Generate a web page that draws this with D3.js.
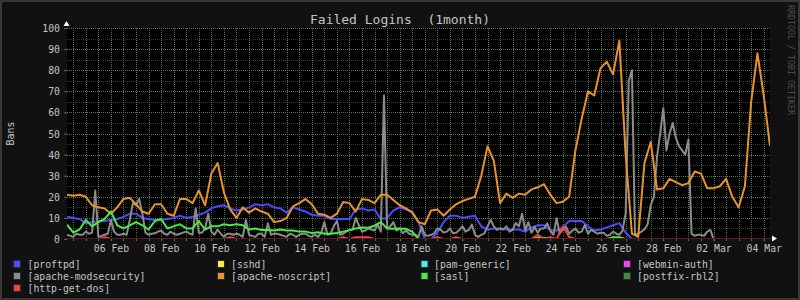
<!DOCTYPE html>
<html>
<head>
<meta charset="utf-8">
<script src="https://d3js.org/d3.v7.min.js"></script>
<style>
  html, body { margin: 0; padding: 0; background: #111; }
  svg { display: block; }
  text { font-family: "DejaVu Sans Mono", monospace; }
</style>
</head>
<body>
<svg id="chart" width="800" height="300"></svg>
<script>
// time span shown (1 month), every series is evenly sampled over it
const startTime = new Date(2015, 1, 4, 6);
const endTime = new Date(2015, 2, 4, 6);

const yTicks = [0, 10, 20, 30, 40, 50, 60, 70, 80, 90, 100];

const jailNames = ["[proftpd]", "[sshd]", "[pam-generic]", "[webmin-auth]",
  "[apache-modsecurity]", "[apache-noscript]", "[sasl]", "[postfix-rbl2]", "[http-get-dos]"];
const jailColors = ["#4a4aff", "#eeee44", "#44eeee", "#ee44ee",
  "#8c8c8c", "#e8922e", "#44ee44", "#448844", "#ee4444"];

// 6h samples
const proftpd = [10.5, 10, 9.5, 7.5, 8, 8.5, 8.5, 9, 9.5, 10.5,
  12, 12, 10, 9.5, 9, 9, 9.5, 10, 11, 10,
  10.5, 11.5, 12.5, 14.5, 15.5, 16, 14.5, 13.5, 14, 15,
  16.5, 16, 16.5, 15, 14.5, 12.5, 15, 14, 13, 11.5,
  11, 11, 9.5, 9.5, 9.5, 9.5, 14, 14.5, 13.5, 14,
  9.5, 10, 13.5, 15, 14, 13, 8, 0, 0, 3,
  8, 11, 11, 10, 10.5, 11, 6, 4.5, 5, 5,
  4.5, 4.5, 4.5, 3.5, 5.5, 6.5, 6.5, 4, 4, 5.5,
  8.5, 8.5, 8.5, 6, 4, 4.5, 5.5, 6.5, 7.5, 3,
  0, 0, 0, 0, 0, 0, 0, 0, 0, 0,
  0, 0, 0, 0, 0, 0, 0, 0, 0, 0,
  0, 0, 0];

// 3h samples
const apacheModsecurity = [2, 1.5, 1, 2.5, 2, 2, 3.5, 2.5, 3, 23,
  1, 1.5, 2, 2.5, 9, 3.5, 2, 2, 2.5, 2,
  9, 17, 16, 19, 12, 3, 2, 2.5, 2.7, 3.5,
  4, 2.5, 2, 3.5, 2.5, 2, 2.5, 3, 3.5, 2.7,
  2, 14.5, 3, 3, 5, 12, 3.5, 2, 4.5, 2.5,
  1, 2.5, 2.5, 2, 2.5, 2, 1, 9, 2, 1.5,
  1, 2.5, 2.5, 1, 7.5, 2, 2.5, 2.5, 2, 1.5,
  1, 2.5, 2, 1, 2, 2.5, 2.5, 1.5, 1, 2,
  1, 3, 8, 2, 2.5, 6, 8.5, 2, 2.5, 3.5,
  4.3, 4.5, 10, 6.5, 3.5, 4, 5, 4.5, 4, 6.8,
  3.5, 68, 5, 6, 8, 4, 5, 2.7, 4, 2.5,
  2, 2, 1, 6, 2, 1.5, 2, 2.7, 5, 4.5,
  3, 3.5, 5, 2.7, 3, 4.3, 6, 3.5, 4.3, 6.8,
  2, 1, 2, 2.7, 6, 9, 6, 4.3, 5, 4.5,
  6, 3.5, 4.3, 7.6, 6, 12, 4, 8, 3, 5.8,
  3, 5, 5, 7.4, 4, 2, 9.8, 2.5, 4.5, 5.8,
  2.5, 4, 5, 3, 3.5, 6.6, 2.5, 4.3, 3.5, 2.5,
  3, 3, 1.5, 2, 3.5, 2.5, 2, 4, 12, 75,
  80, 2, 2.5, 3.5, 4.5, 7, 16, 20, 39, 50,
  62, 42, 50, 55, 48, 44, 42, 40, 47, 2.5,
  1.5, 2, 2, 1.5, 3.5, 4.3, 0, 0, 0, 0,
  0, 0, 0, 0, 0, 0, 0, 0, 0, 0,
  0, 0, 0, 0, 0];

// 6h samples
const apacheNoscript = [21, 20.5, 21, 20, 16, 15, 14.5, 12, 15, 19,
  19.5, 16.5, 13, 12, 16.5, 16.5, 12, 11, 19, 19,
  17, 23, 16, 31, 36, 22, 14, 10, 15, 12.5,
  14.5, 13, 12, 8, 8.5, 10, 15.5, 17, 19, 16.5,
  12, 11.5, 10, 12, 17.5, 17, 13, 19, 18.5, 17,
  21, 21, 18.5, 16, 14.5, 12.5, 8, 7, 13.5, 14,
  11, 14, 16.5, 18, 19, 20, 30, 44, 37, 17,
  21.5, 19.5, 21.5, 21, 23.5, 24.5, 26, 21, 17, 17.7,
  20, 42, 57, 70, 68, 81, 84, 78, 94, 40,
  2.5, 1, 36, 46, 23.5, 24, 28.5, 27, 25.5, 26.5,
  32, 31, 24, 24, 25, 28.5, 20, 15, 25, 65,
  88, 68, 44];

const sasl = [6.8, 3, 4.5, 9, 6, 8, 9.5, 13, 6.5, 5,
  6.5, 8, 6.5, 4.5, 8.5, 9.5, 5, 6, 7, 5,
  5, 8.5, 4.5, 6, 6, 7, 6.5, 7, 6.5, 4.5,
  5, 4.3, 4.3, 4, 4.5, 4, 4, 3.5, 3.5, 2.8,
  3.2, 2.5, 2.5, 2.8, 3.5, 4.2, 5, 5.5, 5.3, 6.3,
  8, 5, 4.8, 5, 4.8, 3.5, 0, 0, 0, 0,
  0, 0, 0, 0, 0, 0, 0, 0, 0, 0,
  0, 0, 0, 0, 0, 0.6, 0.6, 0, 0, 0,
  0, 0, 0, 0, 0, 0, 0, 0.8, 0.8, 0,
  0, 0, 0, 0, 0, 0, 0, 0, 0, 0,
  0, 0, 0, 0, 0, 0, 0, 0, 0, 0,
  0, 0, 0];

const httpGetDos = [0, 0, 0, 0, 0, 0, 0.8, 0, 0, 0,
  0, 0, 0, 0, 0, 0, 0, 0, 0, 0,
  0, 0, 0, 0, 0, 0, 0.8, 0, 0, 0,
  0, 0, 0, 0, 0, 0, 0, 0, 0, 0,
  0, 0, 0, 0, 0.8, 0, 0.8, 0.8, 0.8, 0,
  0, 0, 0, 0, 0, 0, 0, 0, 0, 0.8,
  0, 0, 0.8, 0, 0, 0, 0, 0, 0, 0,
  0, 0, 0, 0, 0, 2, 0, 0.8, 0, 6,
  1, 0, 0, 0, 0, 0, 0, 0, 0, 0,
  0, 0, 0, 0, 0, 0, 0, 0, 0, 0,
  0, 0, 0, 0, 0, 0, 0, 0, 0, 0,
  0, 0, 0];

// sshd, pam-generic, webmin-auth and postfix-rbl2 have no bans in this period
const series = [
  { values: proftpd, color: jailColors[0] },
  { values: apacheModsecurity, color: jailColors[4] },
  { values: apacheNoscript, color: jailColors[5] },
  { values: sasl, color: jailColors[6] },
  { values: httpGetDos, color: jailColors[8] }
];

const W = 800, H = 300;
const plot = { left: 67, right: 770, top: 28, bottom: 239 };
const gridMajor = "#52744a", gridMinor = "#3c3c1e", axisColor = "#5a1c1c";
const textColor = "#c4c4c4";

const svg = d3.select("#chart");

svg.append("rect").attr("width", W).attr("height", H).attr("fill", "#111");
svg.append("rect").attr("x", 1).attr("y", 1).attr("width", W - 2).attr("height", H - 2)
  .attr("fill", "none").attr("stroke", "#383838").attr("stroke-width", 2);

svg.append("rect")
  .attr("x", plot.left).attr("y", plot.top)
  .attr("width", plot.right - plot.left).attr("height", plot.bottom - plot.top)
  .attr("fill", "#000");

var x = d3.scaleTime().domain([startTime, endTime]).range([plot.left, plot.right]);
var y = d3.scaleLinear().domain([0, 100]).range([plot.bottom, plot.top]);

const snap = (v) => Math.round(v) + 0.5;

// grid
const grid = svg.append("g").attr("shape-rendering", "crispEdges").attr("stroke-dasharray", "1,1");
grid.selectAll("line.minor").data(d3.range(5, 100, 10)).enter().append("line")
  .attr("x1", plot.left).attr("x2", plot.right)
  .attr("y1", (d) => snap(y(d))).attr("y2", (d) => snap(y(d)))
  .attr("stroke", gridMinor);
grid.selectAll("line.major").data(yTicks.slice(1)).enter().append("line")
  .attr("x1", plot.left).attr("x2", plot.right)
  .attr("y1", (d) => snap(y(d))).attr("y2", (d) => snap(y(d)))
  .attr("stroke", gridMajor);
grid.selectAll("line.vert").data(d3.timeHour.every(12).range(startTime, endTime)).enter().append("line")
  .attr("x1", (d) => snap(x(d))).attr("x2", (d) => snap(x(d)))
  .attr("y1", plot.top).attr("y2", plot.bottom)
  .attr("stroke", gridMajor);

// data lines, clipped so a value of 0 hides behind the axis
svg.append("clipPath").attr("id", "clip").append("rect")
  .attr("x", plot.left).attr("y", plot.top - 2)
  .attr("width", plot.right - plot.left).attr("height", plot.bottom - 1 - (plot.top - 2));

const lines = svg.append("g").attr("clip-path", "url(#clip)");
series.forEach((s) => {
  const n = s.values.length;
  const t = (i) => new Date(+startTime + i * (endTime - startTime) / (n - 1));
  const line = d3.line().x((d, i) => x(t(i))).y((d) => y(d));
  lines.append("path")
    .datum(s.values)
    .attr("d", line)
    .attr("fill", "none")
    .attr("stroke", s.color)
    .attr("stroke-width", 2)
    .attr("stroke-linejoin", "round");
});

// axes
const xAxis = d3.axisBottom(x)
  .tickValues(d3.timeDay.range(new Date(2015, 1, 6), endTime, 2))
  .tickFormat(d3.timeFormat("%d %b"))
  .tickSize(2).tickPadding(4);
const gx = svg.append("g").attr("transform", `translate(0,${plot.bottom})`).call(xAxis);
gx.select(".domain").remove();
gx.selectAll("line").attr("stroke", gridMajor);
gx.selectAll("text").attr("fill", textColor).attr("font-size", "9.8px")
  .attr("font-family", "DejaVu Sans Mono");

// small ticks every 12h under the axis
svg.append("g").selectAll("line").data(d3.timeHour.every(12).range(startTime, endTime)).enter()
  .append("line")
  .attr("x1", (d) => snap(x(d))).attr("x2", (d) => snap(x(d)))
  .attr("y1", plot.bottom).attr("y2", plot.bottom + 2)
  .attr("stroke", gridMajor).attr("shape-rendering", "crispEdges");

const yAxis = d3.axisLeft(y).tickValues(yTicks).tickSize(3).tickPadding(4);
const gy = svg.append("g").attr("transform", `translate(${plot.left},0)`).call(yAxis);
gy.select(".domain").remove();
gy.selectAll("line").attr("stroke", gridMajor);
gy.selectAll("text").attr("fill", textColor).attr("font-size", "9.8px")
  .attr("font-family", "DejaVu Sans Mono").attr("dy", "0.36em");

// axis line and arrows
svg.append("line").attr("x1", plot.left - 1).attr("x2", plot.right + 2)
  .attr("y1", plot.bottom - 0.5).attr("y2", plot.bottom - 0.5)
  .attr("stroke", axisColor);
svg.append("path").attr("d", `M${plot.left - 0.5},21 L${plot.left - 3.5},26 L${plot.left + 2.5},26 Z`)
  .attr("fill", "#fff");
svg.append("path").attr("d", `M${plot.right + 7},${plot.bottom - 0.5} L${plot.right + 2},${plot.bottom - 3.5} L${plot.right + 2},${plot.bottom + 2.5} Z`)
  .attr("fill", "#fff");

// titles
svg.append("text").attr("x", 400).attr("y", 23.5).attr("text-anchor", "middle")
  .attr("fill", textColor).attr("font-size", "13px").attr("xml:space", "preserve")
  .text("Failed Logins  (1month)");
svg.append("text").attr("transform", `translate(13.5,${(plot.top + plot.bottom) / 2}) rotate(-90)`)
  .attr("text-anchor", "middle").attr("fill", textColor).attr("font-size", "10px")
  .text("Bans");
svg.append("text").attr("transform", "translate(788,5) rotate(90)")
  .attr("fill", "#4e4e4e").attr("font-size", "8.3px")
  .text("RRDTOOL / TOBI OETIKER");

// legend
const legendSwatchX = [13, 217, 420.5, 623];
const legendTextX = [27.5, 231, 434, 637];
const legendRowY = [264, 276, 288];
const legend = svg.append("g");
jailNames.forEach((name, i) => {
  const col = i % 4, row = Math.floor(i / 4);
  const cy = legendRowY[row];
  legend.append("rect")
    .attr("x", legendSwatchX[col] + 0.5).attr("y", cy - 3.5)
    .attr("width", 7).attr("height", 7)
    .attr("fill", jailColors[i]).attr("stroke", "#2a2a2a");
  legend.append("text")
    .attr("x", legendTextX[col]).attr("y", cy + 3.5)
    .attr("fill", textColor).attr("font-size", "9.8px")
    .text(name);
});
</script>
</body>
</html>
